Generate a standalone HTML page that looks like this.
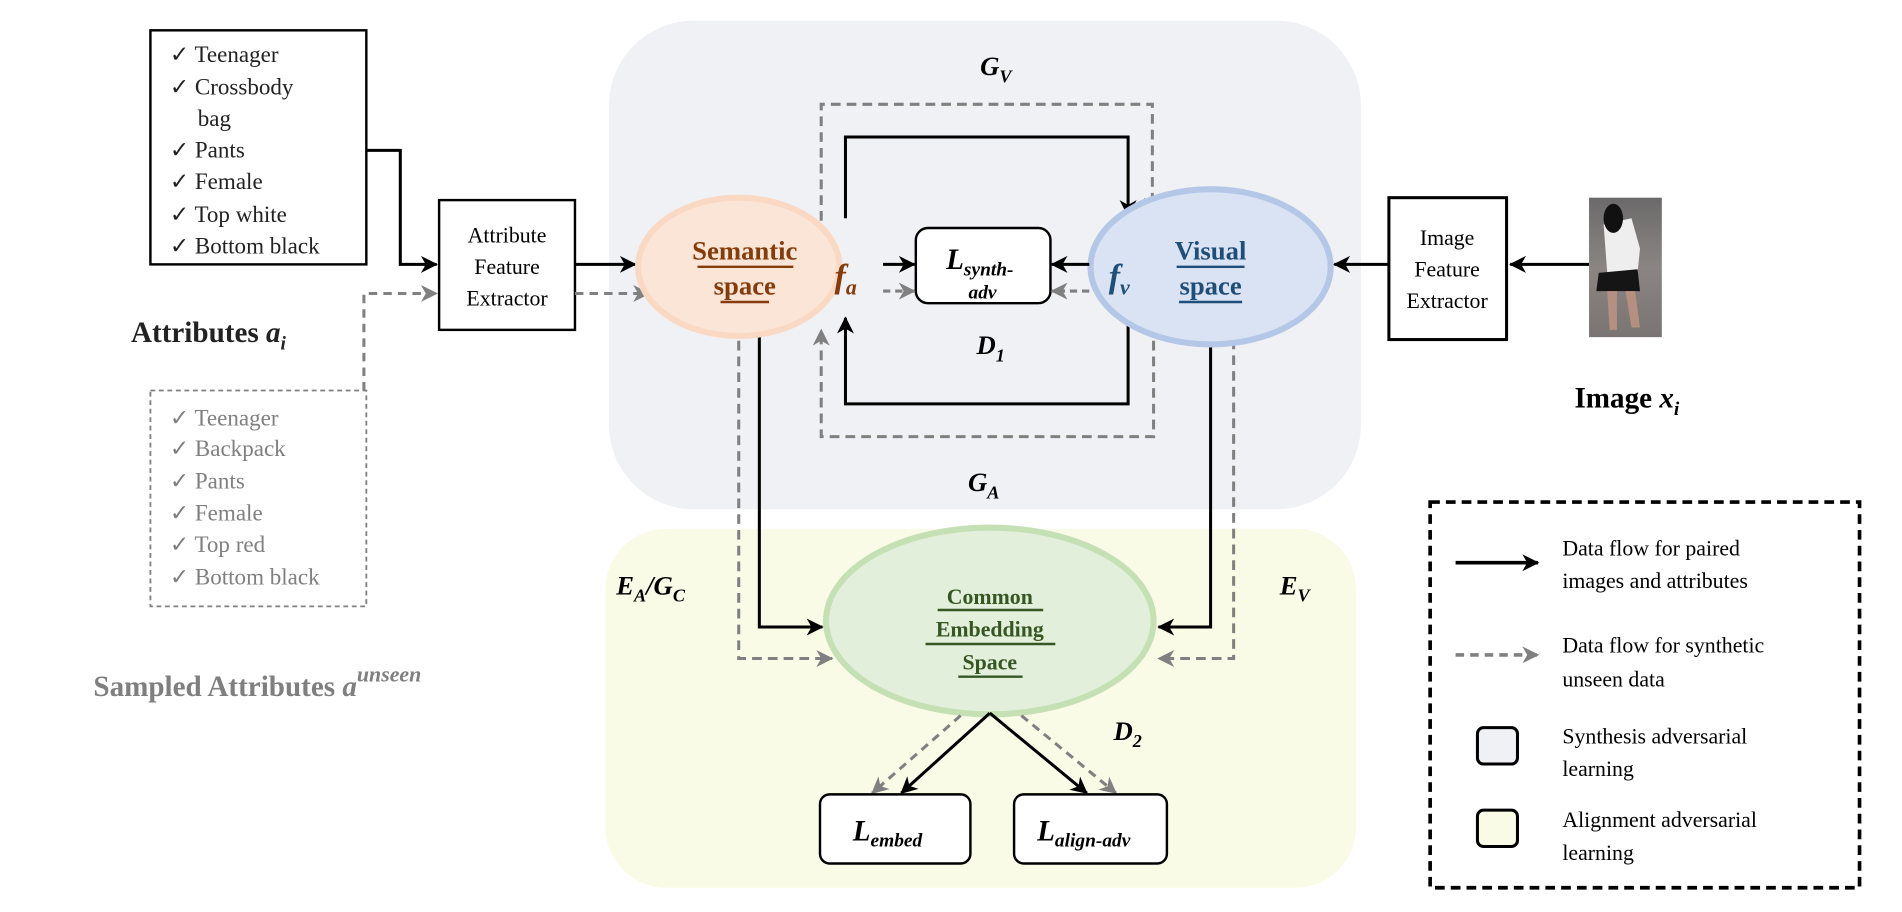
<!DOCTYPE html>
<html><head><meta charset="utf-8"><style>
html,body{margin:0;padding:0;background:#fff;}
svg{display:block;}
text{font-family:"Liberation Serif","Times New Roman","DejaVu Serif",serif;}
</style></head><body>
<svg width="1902" height="912" viewBox="0 0 1568 752" preserveAspectRatio="none" xmlns="http://www.w3.org/2000/svg" font-family="Liberation Serif, serif">
<defs>
<marker id="ab" markerWidth="14" markerHeight="14" refX="13" refY="7" orient="auto" markerUnits="userSpaceOnUse"><path d="M0,0 L14,7 L0,14 L4,7 z" fill="#000"/></marker>
<marker id="ag" markerWidth="14" markerHeight="14" refX="13" refY="7" orient="auto" markerUnits="userSpaceOnUse"><path d="M0,0 L14,7 L0,14 L4,7 z" fill="#808080"/></marker>
<linearGradient id="ph" x1="0" y1="0" x2="0" y2="1"><stop offset="0" stop-color="#6b6a6a"/><stop offset="0.5" stop-color="#8a8583"/><stop offset="1" stop-color="#7a7472"/></linearGradient>
</defs>
<rect width="1568" height="752" fill="#fff"/>
<rect x="502" y="17" width="620" height="403" rx="70" fill="#f0f1f5"/>
<rect x="499" y="436" width="619" height="296" rx="50" fill="#f9fbe6"/>

<rect x="124" y="25" width="178" height="193" fill="#fff" stroke="#000" stroke-width="2"/>
<g font-size="19" fill="#222">
<text x="140" y="51">✓ Teenager</text>
<text x="140" y="78">✓ Crossbody</text>
<text x="163" y="104">bag</text>
<text x="140" y="130">✓ Pants</text>
<text x="140" y="156">✓ Female</text>
<text x="140" y="183">✓ Top white</text>
<text x="140" y="209">✓ Bottom black</text>
</g>
<rect x="124" y="322" width="178" height="178" fill="none" stroke="#808080" stroke-width="1.5" stroke-dasharray="4,3"/>
<g font-size="19" fill="#7f7f7f">
<text x="140" y="351">✓ Teenager</text>
<text x="140" y="376">✓ Backpack</text>
<text x="140" y="403">✓ Pants</text>
<text x="140" y="429">✓ Female</text>
<text x="140" y="455">✓ Top red</text>
<text x="140" y="482">✓ Bottom black</text>
</g>
<text x="108" y="282" font-size="24" font-weight="bold" fill="#222">Attributes <tspan font-style="italic">a</tspan><tspan font-size="16" dy="6" font-style="italic">i</tspan></text>
<text x="77" y="574" font-size="24" font-weight="bold" fill="#7f7f7f">Sampled Attributes <tspan font-style="italic">a</tspan><tspan font-size="18" dy="-12" font-style="italic">unseen</tspan></text>

<path d="M302,124 H330 V218 H360" fill="none" stroke="#000" stroke-width="2.5" marker-end="url(#ab)"/>
<path d="M300,322 V242 H360" fill="none" stroke="#808080" stroke-width="2.5" stroke-dasharray="7,5" marker-end="url(#ag)"/>

<rect x="362" y="165" width="112" height="107" fill="#fff" stroke="#000" stroke-width="2"/>
<g font-size="18" text-anchor="middle" fill="#000">
<text x="418" y="200">Attribute</text><text x="418" y="226">Feature</text><text x="418" y="252">Extractor</text>
</g>
<path d="M474,218 H524" stroke="#000" stroke-width="2.5" marker-end="url(#ab)"/>
<path d="M474,242 H535" stroke="#808080" stroke-width="2.5" stroke-dasharray="7,5" marker-end="url(#ag)"/>

<path d="M677,182 V86 H950 V176" fill="none" stroke="#808080" stroke-width="2.5" stroke-dasharray="8,5" marker-end="url(#ag)"/>
<path d="M951,255 V360 H677 V272" fill="none" stroke="#808080" stroke-width="2.5" stroke-dasharray="8,5" marker-end="url(#ag)"/>
<path d="M697,180 V113 H930 V178" fill="none" stroke="#000" stroke-width="2.5" marker-end="url(#ab)"/>
<path d="M930,258 V333 H697 V262" fill="none" stroke="#000" stroke-width="2.5" marker-end="url(#ab)"/>

<path d="M626,268 V517 H678" fill="none" stroke="#000" stroke-width="2.5" marker-end="url(#ab)"/>
<path d="M609,268 V543 H686" fill="none" stroke="#808080" stroke-width="2.5" stroke-dasharray="8,5" marker-end="url(#ag)"/>
<path d="M998,280 V517 H955" fill="none" stroke="#000" stroke-width="2.5" marker-end="url(#ab)"/>
<path d="M1017,280 V543 H955" fill="none" stroke="#808080" stroke-width="2.5" stroke-dasharray="8,5" marker-end="url(#ag)"/>

<ellipse cx="609" cy="220" rx="83" ry="57" fill="#fbe5d6" stroke="#fad9c4" stroke-width="5"/>
<g font-size="22" font-weight="bold" fill="#843c0c" text-anchor="middle">
<text x="614" y="214">Semantic</text><text x="614" y="243">space</text></g>
<line x1="575" y1="220" x2="654" y2="220" stroke="#843c0c" stroke-width="2"/>
<line x1="594" y1="249" x2="634" y2="249" stroke="#843c0c" stroke-width="2"/>
<text x="688" y="237" font-size="28" font-style="italic" font-weight="bold" fill="#843c0c">f<tspan font-size="18" dy="6">a</tspan></text>

<ellipse cx="998" cy="220" rx="99" ry="64" fill="#dae3f3" stroke="#b4c7e7" stroke-width="5"/>
<g font-size="22" font-weight="bold" fill="#1f4e79" text-anchor="middle">
<text x="998" y="214">Visual</text><text x="998" y="243">space</text></g>
<line x1="970" y1="220" x2="1026" y2="220" stroke="#1f4e79" stroke-width="2"/>
<line x1="972" y1="249" x2="1024" y2="249" stroke="#1f4e79" stroke-width="2"/>
<text x="914" y="237" font-size="28" font-style="italic" font-weight="bold" fill="#1f4e79">f<tspan font-size="18" dy="6">v</tspan></text>

<rect x="755" y="188" width="111" height="62" rx="10" fill="#fff" stroke="#000" stroke-width="2"/>
<text x="780" y="222" font-size="24" font-style="italic" font-weight="bold">L<tspan font-size="16" dy="5">synth-</tspan></text>
<text x="810" y="246" font-size="16" font-style="italic" font-weight="bold" text-anchor="middle">adv</text>
<path d="M728,218 H754" stroke="#000" stroke-width="2.5" marker-end="url(#ab)"/>
<path d="M728,240 H754" stroke="#808080" stroke-width="2.5" stroke-dasharray="6,4" marker-end="url(#ag)"/>
<path d="M898,218 H867" stroke="#000" stroke-width="2.5" marker-end="url(#ab)"/>
<path d="M898,240 H867" stroke="#808080" stroke-width="2.5" stroke-dasharray="6,4" marker-end="url(#ag)"/>

<g font-size="22" font-style="italic" font-weight="bold">
<text x="808" y="62">G<tspan font-size="15" dy="6">V</tspan></text>
<text x="798" y="405">G<tspan font-size="15" dy="6">A</tspan></text>
<text x="805" y="292">D<tspan font-size="15" dy="6">1</tspan></text>
<text x="508" y="490">E<tspan font-size="15" dy="6">A</tspan><tspan dy="-6">/G</tspan><tspan font-size="15" dy="6">C</tspan></text>
<text x="1055" y="490">E<tspan font-size="15" dy="6">V</tspan></text>
<text x="918" y="610">D<tspan font-size="15" dy="6">2</tspan></text>
</g>

<ellipse cx="816" cy="512" rx="135" ry="77" fill="#e2efda" stroke="#c5e0b4" stroke-width="5"/>
<g font-size="18" font-weight="bold" fill="#375623" text-anchor="middle">
<text x="816" y="498">Common</text><text x="816" y="525">Embedding</text><text x="816" y="552">Space</text></g>
<line x1="773" y1="503" x2="860" y2="503" stroke="#375623" stroke-width="2"/>
<line x1="763" y1="531" x2="870" y2="531" stroke="#375623" stroke-width="2"/>
<line x1="790" y1="558" x2="843" y2="558" stroke="#375623" stroke-width="2"/>

<path d="M816,588 L743,654" stroke="#000" stroke-width="2.5" marker-end="url(#ab)"/>
<path d="M816,588 L896,654" stroke="#000" stroke-width="2.5" marker-end="url(#ab)"/>
<path d="M792,590 L719,654" stroke="#808080" stroke-width="2.5" stroke-dasharray="7,5" marker-end="url(#ag)"/>
<path d="M842,590 L920,654" stroke="#808080" stroke-width="2.5" stroke-dasharray="7,5" marker-end="url(#ag)"/>

<rect x="676" y="655" width="124" height="57" rx="8" fill="#fff" stroke="#000" stroke-width="2"/>
<text x="703" y="693" font-size="24" font-style="italic" font-weight="bold">L<tspan font-size="16" dy="5">embed</tspan></text>
<rect x="836" y="655" width="126" height="57" rx="8" fill="#fff" stroke="#000" stroke-width="2"/>
<text x="855" y="693" font-size="24" font-style="italic" font-weight="bold">L<tspan font-size="16" dy="5">align-adv</tspan></text>

<rect x="1145" y="163" width="97" height="117" fill="#fff" stroke="#000" stroke-width="2.5"/>
<g font-size="18" text-anchor="middle"><text x="1193" y="202">Image</text><text x="1193" y="228">Feature</text><text x="1193" y="254">Extractor</text></g>
<path d="M1145,218 H1100" stroke="#000" stroke-width="2.5" marker-end="url(#ab)"/>
<path d="M1310,218 H1245" stroke="#000" stroke-width="2.5" marker-end="url(#ab)"/>
<rect x="1310" y="163" width="60" height="115" fill="url(#ph)"/>
<path d="M1322,185 L1345,180 L1352,205 L1350,225 L1325,225 Z" fill="#eee"/>
<ellipse cx="1330" cy="180" rx="8" ry="12" fill="#111"/>
<path d="M1318,225 L1350,222 L1352,240 L1316,240 Z" fill="#151515"/>
<path d="M1325,240 L1333,240 L1333,272 L1327,272 Z M1340,240 L1348,240 L1352,270 L1345,270 Z" fill="#b58f80"/>
<text x="1298" y="336" font-size="24" font-weight="bold">Image <tspan font-style="italic">x</tspan><tspan font-size="16" dy="6" font-style="italic">i</tspan></text>

<rect x="1179" y="414" width="354" height="318" fill="#fff" stroke="#000" stroke-width="3" stroke-dasharray="8,5"/>
<path d="M1200,464 H1268" stroke="#000" stroke-width="3" marker-end="url(#ab)"/>
<path d="M1200,540 H1268" stroke="#808080" stroke-width="3" stroke-dasharray="7,5" marker-end="url(#ag)"/>
<rect x="1218" y="600" width="33" height="30" rx="5" fill="#f0f1f5" stroke="#000" stroke-width="2.5"/>
<rect x="1218" y="668" width="33" height="30" rx="5" fill="#f9fbe6" stroke="#000" stroke-width="2.5"/>
<g font-size="18">
<text x="1288" y="458">Data flow for paired</text><text x="1288" y="485">images and attributes</text>
<text x="1288" y="538">Data flow for synthetic</text><text x="1288" y="566">unseen data</text>
<text x="1288" y="613">Synthesis adversarial</text><text x="1288" y="640">learning</text>
<text x="1288" y="682">Alignment adversarial</text><text x="1288" y="709">learning</text>
</g>
</svg>
</body></html>
